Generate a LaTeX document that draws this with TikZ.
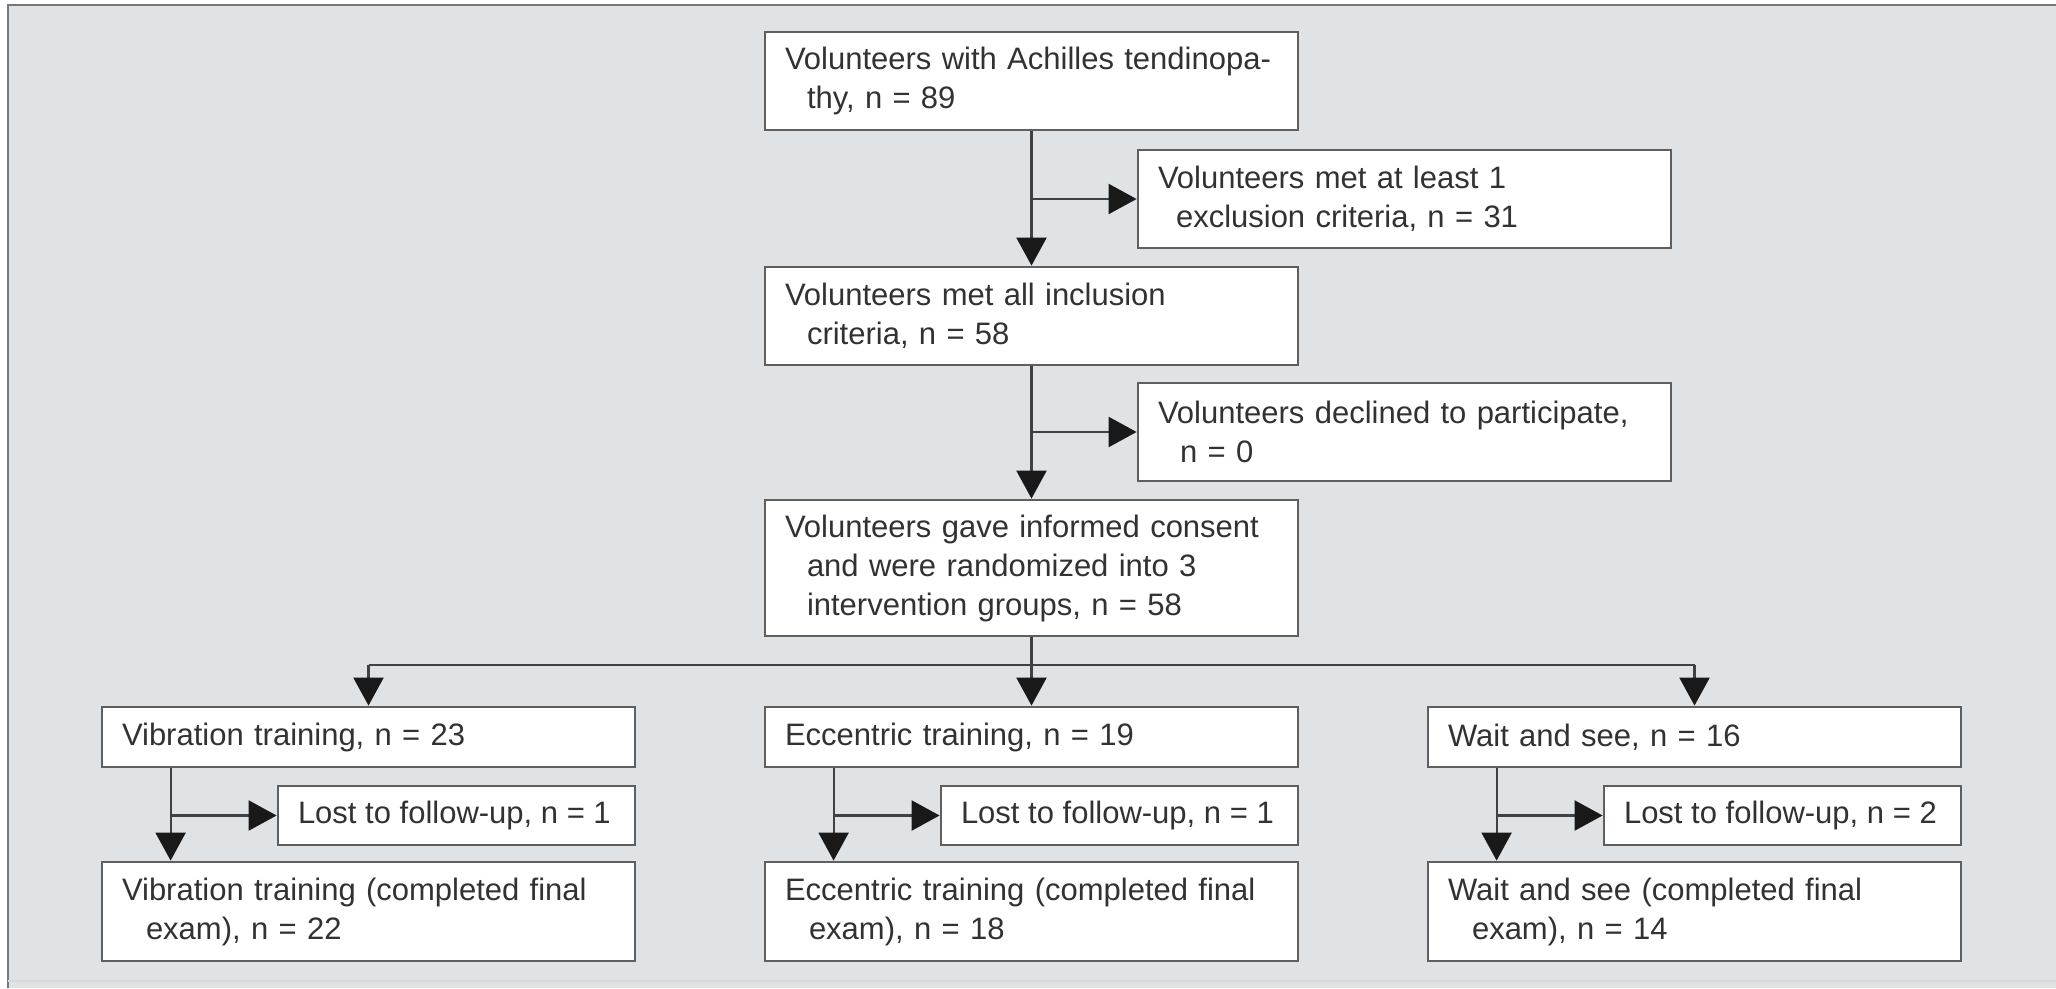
\documentclass[tikz,border=0pt]{standalone}
\usepackage{fontspec}
\setmainfont{Liberation Sans}
\usetikzlibrary{arrows.meta}
\definecolor{bg}{RGB}{224,227,230}
\definecolor{boxline}{RGB}{95,95,95}
\definecolor{connc}{RGB}{65,65,65}
\definecolor{txt}{RGB}{50,50,50}
\definecolor{frame}{RGB}{120,120,120}
\newcommand{\lostline}[1]{\makebox[317pt][l]{#1}}
\begin{document}
\begin{tikzpicture}[x=1pt,y=-1pt,
  box/.style={draw=boxline, line width=2.8pt, fill=white, inner xsep=20pt, inner ysep=0pt,
    align=left, text=txt, font=\fontsize{31}{39}\selectfont},
  wbox/.style={box, text width=493pt, minimum width=533pt},
  sbox/.style={box, minimum width=357pt},
  conn/.style={draw=connc, line width=2.2pt},
  arr/.style={conn, -{Triangle[width=30pt,length=28pt,color=black!90]}}
]
\useasboundingbox (0,0) rectangle (2056,988);
\fill[white] (0,0) rectangle (2056,988);
\fill[bg] (8,5) rectangle (2056,988);
\draw[frame, line width=2.5pt] (8,988) -- (8,5) -- (2056,5);
\draw[black!15, line width=1.5pt] (8,981) -- (2056,981);

% main column
\node[wbox, minimum height=98pt] (top) at (1031.5,81)
  {Volunteers with Achilles tendinopa-\\\hspace*{22pt}thy, n = 89};
\node[wbox, minimum height=98pt] (excl) at (1404.5,199)
  {Volunteers met at least 1\\\hspace*{18pt}exclusion criteria, n = 31};
\node[wbox, minimum height=98pt] (incl) at (1031.5,316)
  {Volunteers met all inclusion\\\hspace*{22pt}criteria, n = 58};
\node[wbox, minimum height=98pt] (decl) at (1404.5,432)
  {Volunteers declined to participate,\\\hspace*{22pt}n = 0};
\node[wbox, minimum height=136pt] (cons) at (1031.5,568)
  {Volunteers gave informed consent\\\hspace*{22pt}and were randomized into 3\\\hspace*{22pt}intervention groups, n = 58};

% groups
\node[wbox, minimum height=60pt] (vib) at (368.5,737) {Vibration training, n = 23};
\node[wbox, minimum height=60pt] (ecc) at (1031.5,737) {Eccentric training, n = 19};
\node[wbox, minimum height=60pt] (wait) at (1694.5,737) {Wait and see, n = 16};

\node[sbox, minimum height=59pt] (lost1) at (456.5,815.5) {\lostline{Lost to follow-up, n = 1}};
\node[sbox, minimum height=59pt] (lost2) at (1119.5,815.5) {\lostline{Lost to follow-up, n = 1}};
\node[sbox, minimum height=59pt] (lost3) at (1782.5,815.5) {\lostline{Lost to follow-up, n = 2}};

\node[wbox, minimum height=99pt] (fin1) at (368.5,911.5)
  {Vibration training (completed final\\\hspace*{24pt}exam), n = 22};
\node[wbox, minimum height=99pt] (fin2) at (1031.5,911.5)
  {Eccentric training (completed final\\\hspace*{24pt}exam), n = 18};
\node[wbox, minimum height=99pt] (fin3) at (1694.5,911.5)
  {Wait and see (completed final\\\hspace*{24pt}exam), n = 14};

% connectors main column
\draw[arr] (top.south) -- (incl.north);
\draw[arr] (top.south |- excl.west) -- (excl.west);
\draw[arr] (incl.south) -- (cons.north);
\draw[arr] (incl.south |- decl.west) -- (decl.west);

\coordinate (split) at (1031.5,665);
\draw[conn] (vib.north |- split) -- (wait.north |- split);
\draw[arr] (cons.south) -- (ecc.north);
\draw[arr] (vib.north |- split) -- (vib.north);
\draw[arr] (wait.north |- split) -- (wait.north);

% group columns
\foreach \g/\l/\f in {vib/lost1/fin1, ecc/lost2/fin2, wait/lost3/fin3}{
  \draw[arr] ([xshift=70pt]\g.south west) -- ([xshift=70pt]\f.north west);
  \draw[arr] ([xshift=70pt]\g.south west |- \l.west) -- (\l.west);
}
\end{tikzpicture}
\end{document}
